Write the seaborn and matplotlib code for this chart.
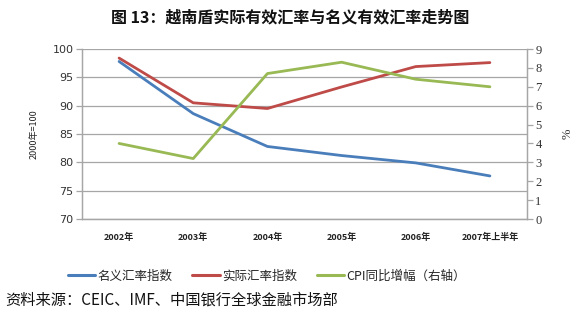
import matplotlib
matplotlib.use("Agg")
import matplotlib.pyplot as plt
from matplotlib.lines import Line2D
import seaborn as sns
import pandas as pd
import numpy as np

years = ["2002年", "2003年", "2004年", "2005年", "2006年", "2007年上半年"]
nominal = [97.8, 88.6, 82.8, 81.2, 79.9, 77.6]
real = [98.4, 90.5, 89.5, 93.3, 96.9, 97.6]
cpi = [4.0, 3.2, 7.7, 8.3, 7.4, 7.0]

sns.set_theme(style="white")
plt.rcParams['font.family'] = ['Noto Sans CJK SC', 'DejaVu Sans']

blue = "#4A7EBB"
red = "#BE4B48"
green = "#98B954"
grid_c = "#A6A6A6"

fig = plt.figure(figsize=(5.8, 3.24), dpi=100)
ax = fig.add_axes([82/580, 1-219/324, 445/580, 170/324])
ax2 = ax.twinx()

df = pd.DataFrame({"year": years, "nominal": nominal, "real": real, "cpi": cpi})
df["pos"] = np.arange(len(years))

sns.lineplot(data=df, x="pos", y="nominal", ax=ax, color=blue, linewidth=2.0, legend=False)
sns.lineplot(data=df, x="pos", y="real", ax=ax, color=red, linewidth=2.0, legend=False)
sns.lineplot(data=df, x="pos", y="cpi", ax=ax2, color=green, linewidth=2.0, legend=False)

ax.set_xlim(-0.5, len(years) - 0.5)
ax.set_ylim(70, 100)
ax.set_yticks(range(70, 101, 5))
ax2.set_ylim(0, 9)
ax2.set_yticks(range(0, 10))

ax.yaxis.grid(True, color=grid_c, linewidth=0.9)
ax.set_axisbelow(True)

ax.set_xticks(df["pos"])
ax.set_xticklabels(years, fontsize=6.5, fontweight='bold', color="#222222")
ax.set_xticks(np.arange(-0.5, len(years), 1.0), minor=True)
ax.tick_params(axis='x', which='major', length=0, pad=10)
ax.tick_params(axis='x', which='minor', length=4, color=grid_c, width=0.9, direction='out')
ax.tick_params(axis='y', length=4, color=grid_c, width=0.9, direction='out', labelsize=8, labelcolor="#333333", pad=2)
ax2.tick_params(axis='y', length=4, color=grid_c, width=0.9, direction='out', labelsize=9, labelcolor="#333333", pad=2)
for lab in ax.get_yticklabels():
    lab.set_family('DejaVu Sans')
for lab in ax2.get_yticklabels():
    lab.set_family('Liberation Serif')

for a in (ax, ax2):
    a.set_xlabel("")
    a.spines["top"].set_visible(False)
    for s in ("left", "right", "bottom"):
        a.spines[s].set_color(grid_c)
        a.spines[s].set_linewidth(0.9)

ax.set_ylabel("2000年=100", fontsize=6.5, labelpad=10, color="#222222")
ax2.set_ylabel("%", fontsize=9, labelpad=14, color="#333333", family='Liberation Serif')

fig.text(0.5, 0.947, "图 13：越南盾实际有效汇率与名义有效汇率走势图", ha='center', va='center',
         fontsize=11.5, fontweight='bold', color="#111111")

handles = [Line2D([0], [0], color=blue, lw=2.2),
           Line2D([0], [0], color=red, lw=2.2),
           Line2D([0], [0], color=green, lw=2.2)]
labels = ["名义汇率指数", "实际汇率指数", "CPI同比增幅（右轴）"]
fig.legend(handles, labels, loc='center', bbox_to_anchor=(0.46, 1-276/324), ncol=3,
           frameon=False, fontsize=9, handlelength=2.2, handletextpad=0.15, columnspacing=1.6)

fig.text(5/580, 1-300/324, "资料来源：CEIC、IMF、中国银行全球金融市场部", ha='left', va='center',
         fontsize=11, color="#111111")

fig.savefig("out.png", dpi=100)
